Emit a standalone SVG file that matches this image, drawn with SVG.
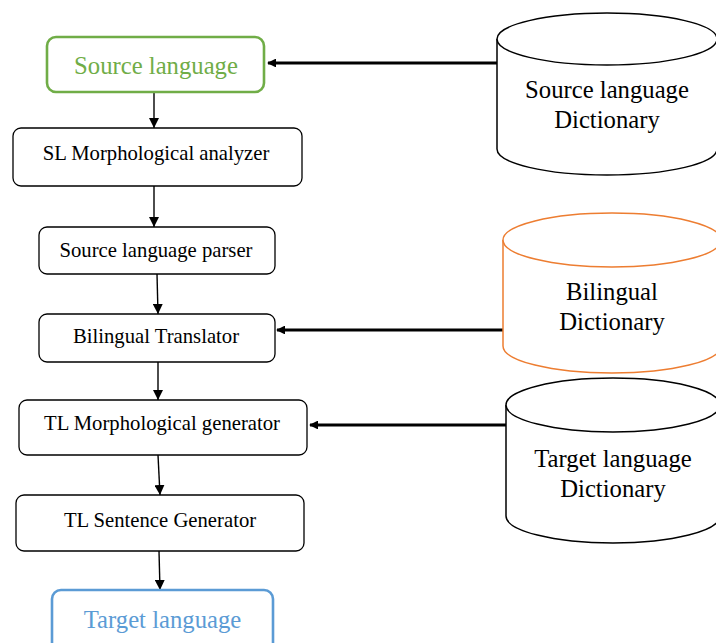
<svg xmlns="http://www.w3.org/2000/svg" width="716" height="643" viewBox="0 0 716 643">
  <defs>
    <marker id="tri" viewBox="0 0 10 10" refX="10" refY="5" markerWidth="10" markerHeight="10" markerUnits="userSpaceOnUse" orient="auto">
      <path d="M0,0 L10,5 L0,10 z" fill="#000"/>
    </marker>
    <marker id="triBold" viewBox="0 0 10 10" refX="9" refY="5" markerWidth="2.8" markerHeight="2.8" orient="auto">
      <path d="M0,0 L10,5 L0,10 z" fill="#000"/>
    </marker>
  </defs>
  <style>
    .box { fill: #fff; stroke: #000; stroke-width: 1.3; }
    .io { fill: #fff; stroke-width: 2.6; }
    .txt { font-family: "Liberation Serif", "Times New Roman", serif; font-size: 20.7px; fill: #000; text-anchor: middle; }
    .big { font-family: "Liberation Serif", "Times New Roman", serif; font-size: 24.7px; text-anchor: middle; }
    .cyl { fill: #fff; stroke-width: 1.5; }
    .flow { stroke: #000; stroke-width: 1.4; fill: none; marker-end: url(#tri); }
    .feed { stroke: #000; stroke-width: 3.2; fill: none; marker-end: url(#triBold); }
  </style>
  <rect width="716" height="643" fill="#fff"/>

  <!-- connectors -->
  <g id="connectors">
    <line class="flow" x1="154" y1="92" x2="154" y2="128"/>
    <line class="flow" x1="154" y1="186" x2="154" y2="227"/>
    <line class="flow" x1="157" y1="274" x2="158" y2="314"/>
    <line class="flow" x1="158" y1="362" x2="158" y2="400"/>
    <line class="flow" x1="158" y1="455" x2="160" y2="495"/>
    <line class="flow" x1="159" y1="551" x2="160" y2="590"/>
    <line class="feed" x1="498" y1="63" x2="268" y2="63"/>
    <line class="feed" x1="503" y1="330" x2="277" y2="330"/>
    <line class="feed" x1="506" y1="425" x2="310" y2="425"/>
  </g>

  <!-- process steps -->
  <g id="source-language">
    <rect class="io" x="47" y="37" width="217" height="55" rx="9" stroke="#70ad47"/>
    <text class="big" x="156" y="74" fill="#70ad47">Source language</text>
  </g>
  <g id="sl-morph-analyzer">
    <rect class="box" x="13" y="128" width="289" height="58" rx="8"/>
    <text class="txt" x="156" y="160">SL Morphological analyzer</text>
  </g>
  <g id="sl-parser">
    <rect class="box" x="39" y="227" width="236" height="47" rx="8"/>
    <text class="txt" x="156" y="257">Source language parser</text>
  </g>
  <g id="bilingual-translator">
    <rect class="box" x="39" y="314" width="236" height="48" rx="8"/>
    <text class="txt" x="156" y="343">Bilingual Translator</text>
  </g>
  <g id="tl-morph-generator">
    <rect class="box" x="19" y="400" width="288" height="55" rx="8"/>
    <text class="txt" x="162" y="430">TL Morphological generator</text>
  </g>
  <g id="tl-sentence-generator">
    <rect class="box" x="16" y="495" width="288" height="56" rx="8"/>
    <text class="txt" x="160" y="527">TL Sentence Generator</text>
  </g>
  <g id="target-language">
    <rect class="io" x="52" y="590" width="221" height="62" rx="9" stroke="#5b9bd5"/>
    <text class="big" x="162.5" y="628" fill="#5b9bd5">Target language</text>
  </g>

  <!-- dictionaries -->
  <g id="sl-dictionary">
    <path class="cyl" stroke="#000" d="M497,39 V149 A110,26 0 0 0 717,149 V39"/>
    <ellipse class="cyl" stroke="#000" cx="607" cy="39" rx="110" ry="26"/>
    <text class="big" x="607" y="98" fill="#000">Source language</text>
    <text class="big" x="607" y="128" fill="#000">Dictionary</text>
  </g>
  <g id="bilingual-dictionary">
    <path class="cyl" stroke="#ed7d31" d="M503,240 V346 A109,27 0 0 0 721,346 V240"/>
    <ellipse class="cyl" stroke="#ed7d31" cx="612" cy="240" rx="109" ry="27"/>
    <text class="big" x="612" y="300" fill="#000">Bilingual</text>
    <text class="big" x="612" y="330" fill="#000">Dictionary</text>
  </g>
  <g id="tl-dictionary">
    <path class="cyl" stroke="#000" d="M506,405 V516 A107,27 0 0 0 720,516 V405"/>
    <ellipse class="cyl" stroke="#000" cx="613" cy="405" rx="107" ry="27"/>
    <text class="big" x="613" y="467" fill="#000">Target language</text>
    <text class="big" x="613" y="497" fill="#000">Dictionary</text>
  </g>
</svg>
